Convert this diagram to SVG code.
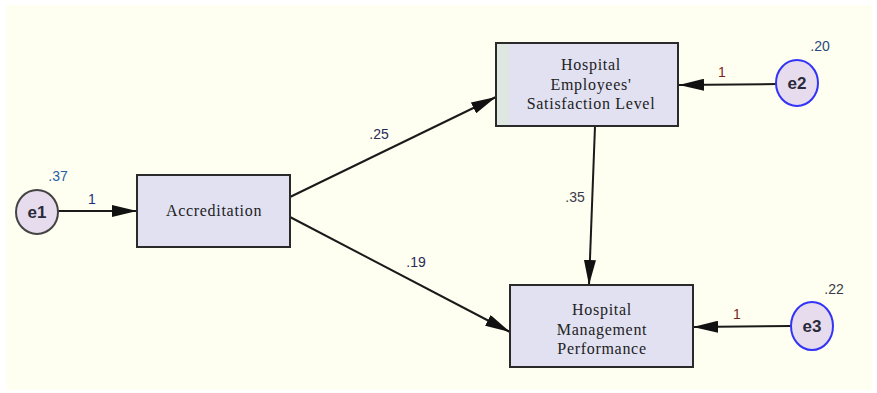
<svg xmlns="http://www.w3.org/2000/svg" width="877" height="393" viewBox="0 0 877 393">
<style>
.box{fill:#e1e1f2;stroke:#2a2a2a;stroke-width:2}
.bt{font-family:"Liberation Serif","DejaVu Serif",serif;font-size:16px;letter-spacing:0.7px;fill:#222;text-anchor:middle}
.e1{fill:#e6dcee;stroke:#444;stroke-width:2}
.eb{fill:#e6dcee;stroke:#3434f6;stroke-width:2}
.et{font-family:"Liberation Sans",Arial,sans-serif;font-size:17px;font-weight:bold;fill:#2a2a3a;text-anchor:middle}
.lab{font-family:"Liberation Sans",Arial,sans-serif;font-size:14px;text-anchor:middle}
.ln{stroke:#1a1a1a;stroke-width:2;fill:none;marker-end:url(#ah)}
</style>
<defs>
<marker id="ah" viewBox="0 0 25 12" refX="25" refY="6" markerWidth="25" markerHeight="12" markerUnits="userSpaceOnUse" orient="auto">
<path d="M0,0 L25,6 L0,12 Z" fill="#111"/>
</marker>
</defs>
<rect x="0" y="0" width="877" height="393" fill="#ffffff"/>
<rect x="6" y="5" width="866" height="385" fill="#fefff0"/>
<g id="connectors">
<line class="ln" x1="58" y1="211" x2="137" y2="211"/>
<line class="ln" x1="290" y1="197" x2="496" y2="97"/>
<line class="ln" x1="290" y1="217" x2="510" y2="332"/>
<line class="ln" x1="595" y1="126" x2="589" y2="285"/>
<line class="ln" x1="777" y1="84" x2="679" y2="85"/>
<line class="ln" x1="791" y1="326" x2="693" y2="327"/>
<text class="lab" x="92" y="204" fill="#1d2f7a">1</text>
<text class="lab" x="379" y="139" fill="#2a2a5a">.25</text>
<text class="lab" x="416" y="267" fill="#2a2a5a">.19</text>
<text class="lab" x="575" y="202" fill="#3a3a4a">.35</text>
<text class="lab" x="722" y="77" fill="#7a1f1f">1</text>
<text class="lab" x="737" y="319" fill="#7a1f1f">1</text>
</g>
<g id="e1">
<ellipse class="e1" cx="37" cy="212" rx="21" ry="22"/>
<text class="et" x="37" y="218">e1</text>
<text class="lab" x="58" y="181" fill="#1f5fa8">.37</text>
</g>
<g id="accreditation">
<rect class="box" x="137" y="175" width="153" height="72"/>
<text class="bt" x="214" y="216">Accreditation</text>
</g>
<g id="satisfaction">
<rect class="box" x="496" y="43" width="182" height="83"/>
<rect x="497" y="44" width="12" height="81" fill="#dfe8e0"/>
<text class="bt" x="591" y="70">Hospital</text>
<text class="bt" x="591" y="90">Employees'</text>
<text class="bt" x="591" y="109">Satisfaction  Level</text>
</g>
<g id="e2">
<ellipse class="eb" cx="797" cy="83" rx="21" ry="23"/>
<text class="et" x="797" y="89">e2</text>
<text class="lab" x="820" y="51" fill="#2a4a7a">.20</text>
</g>
<g id="performance">
<rect class="box" x="510" y="285" width="183" height="82"/>
<text class="bt" x="602" y="315">Hospital</text>
<text class="bt" x="602" y="335">Management</text>
<text class="bt" x="602" y="354">Performance</text>
</g>
<g id="e3">
<ellipse class="eb" cx="812" cy="326" rx="21" ry="24"/>
<text class="et" x="812" y="332">e3</text>
<text class="lab" x="834" y="294" fill="#3a3a4a">.22</text>
</g>
</svg>
